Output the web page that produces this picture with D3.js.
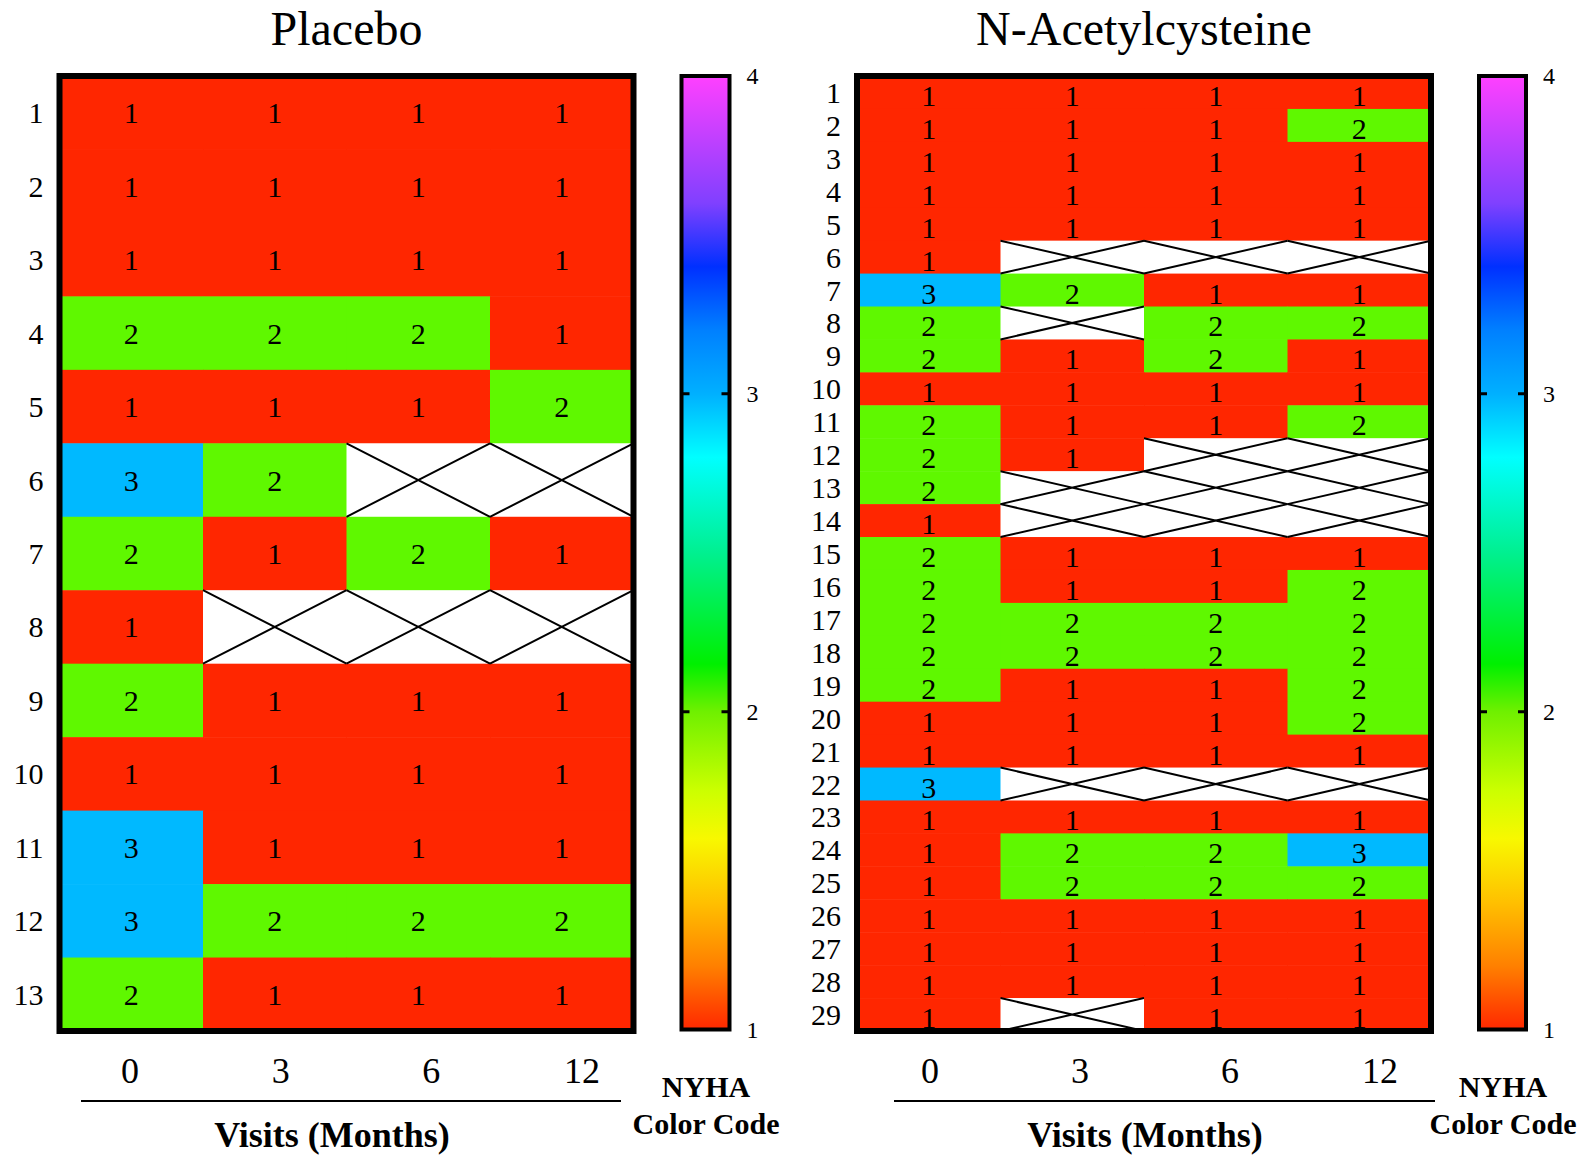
<!DOCTYPE html>
<meta charset="utf-8">
<style>
    body { margin: 0; background: #fff; }
    text { font-family: "Liberation Serif", "Times New Roman", serif; fill: #000; }
    .bold { font-weight: bold; }
</style>
<body>
<script src="https://d3js.org/d3.v7.min.js"></script>
<script>

    // visits (months)
    var visits = ["0", "3", "6", "12"];

    // patient ids
    var placeboIds = [1, 2, 3, 4, 5, 6, 7, 8, 9, 10, 11, 12, 13];
    var nacIds = [1, 2, 3, 4, 5, 6, 7, 8, 9, 10, 11, 12, 13, 14, 15,
                  16, 17, 18, 19, 20, 21, 22, 23, 24, 25, 26, 27, 28, 29];

    // NYHA class per patient and visit, null = missing visit
    var placeboNyha = [
        [1, 1, 1, 1],
        [1, 1, 1, 1],
        [1, 1, 1, 1],
        [2, 2, 2, 1],
        [1, 1, 1, 2],
        [3, 2, null, null],
        [2, 1, 2, 1],
        [1, null, null, null],
        [2, 1, 1, 1],
        [1, 1, 1, 1],
        [3, 1, 1, 1],
        [3, 2, 2, 2],
        [2, 1, 1, 1]
    ];

    var nacNyha = [
        [1, 1, 1, 1],
        [1, 1, 1, 2],
        [1, 1, 1, 1],
        [1, 1, 1, 1],
        [1, 1, 1, 1],
        [1, null, null, null],
        [3, 2, 1, 1],
        [2, null, 2, 2],
        [2, 1, 2, 1],
        [1, 1, 1, 1],
        [2, 1, 1, 2],
        [2, 1, null, null],
        [2, null, null, null],
        [1, null, null, null],
        [2, 1, 1, 1],
        [2, 1, 1, 2],
        [2, 2, 2, 2],
        [2, 2, 2, 2],
        [2, 1, 1, 2],
        [1, 1, 1, 2],
        [1, 1, 1, 1],
        [3, null, null, null],
        [1, 1, 1, 1],
        [1, 2, 2, 3],
        [1, 2, 2, 2],
        [1, 1, 1, 1],
        [1, 1, 1, 1],
        [1, 1, 1, 1],
        [1, null, 1, 1]
    ];

    var nyhaTicks = [1, 2, 3, 4];
    var cellColors = ["#ff2600", "#5ff800", "#00b9ff"];
    var gradientValues = [1, 1.2, 1.4, 1.6, 1.75, 2, 2.15, 2.5, 2.8, 3, 3.2, 3.4, 3.6, 4];
    var gradientColors = ["#ff2800", "#ff8000", "#ffc000", "#f8f800", "#ccff00", "#6ff000", "#00f000",
                          "#00f090", "#00ffff", "#00b0ff", "#0080ff", "#0030ff", "#8040ff", "#ff40ff"];

    var W = 1589, H = 1158;

    var svg = d3.select("body").append("svg")
        .attr("width", W)
        .attr("height", H);

    var defs = svg.append("defs");

    var color = d3.scaleOrdinal().domain([1, 2, 3]).range(cellColors);

    var grad = defs.append("linearGradient")
        .attr("id", "nyhaGrad")
        .attr("x1", 0).attr("y1", 1).attr("x2", 0).attr("y2", 0);
    var gOff = d3.scaleLinear().domain([1, 4]).range([0, 100]);
    grad.selectAll("stop")
        .data(gradientValues)
        .join("stop")
        .attr("offset", d => gOff(d) + "%")
        .attr("stop-color", (d, i) => gradientColors[i]);

    var plotTop = 76, plotBottom = 1031;

    var panels = [
        {title: "Placebo", ids: placeboIds, values: placeboNyha,
         left: 59.5, right: 633.5, numDy: 0,
         tickRange: [130, 582], lineRange: [81, 621], labelX: 332,
         barLeft: 681.5, barRight: 729.5, legendX: 706},
        {title: "N-Acetylcysteine", ids: nacIds, values: nacNyha,
         left: 857, right: 1431, numDy: 3,
         tickRange: [930, 1380], lineRange: [894, 1435], labelX: 1145,
         barLeft: 1479, barRight: 1526, legendX: 1503}
    ];

    panels.forEach(function(p) {
        var g = svg.append("g");

        var x = d3.scaleBand().domain(visits).range([p.left, p.right]);
        var y = d3.scaleBand().domain(p.ids).range([plotTop, plotBottom]);

        var cells = [];
        p.values.forEach(function(row, i) {
            row.forEach(function(v, j) {
                cells.push({id: p.ids[i], visit: visits[j], v: v});
            });
        });

        var cg = g.append("g").attr("class", "cells");
        cg.selectAll("rect")
            .data(cells)
            .join("rect")
            .attr("x", d => x(d.visit))
            .attr("y", d => y(d.id))
            .attr("width", x.bandwidth() + 0.5)
            .attr("height", y.bandwidth() + 0.5)
            .attr("fill", d => d.v == null ? "#fff" : color(d.v));

        var missing = cells.filter(d => d.v == null);
        cg.selectAll("path.miss")
            .data(missing)
            .join("path")
            .attr("class", "miss")
            .attr("d", function(d) {
                var x0 = x(d.visit), x1 = x0 + x.bandwidth();
                var y0 = y(d.id), y1 = y0 + y.bandwidth();
                return "M" + x0 + "," + y0 + "L" + x1 + "," + y1 +
                       "M" + x0 + "," + y1 + "L" + x1 + "," + y0;
            })
            .attr("stroke", "#000")
            .attr("stroke-width", 2)
            .attr("fill", "none");

        cg.selectAll("text")
            .data(cells.filter(d => d.v != null))
            .join("text")
            .attr("x", d => x(d.visit) + x.bandwidth() / 2)
            .attr("y", d => y(d.id) + y.bandwidth() / 2 + p.numDy)
            .attr("dy", "0.35em")
            .attr("text-anchor", "middle")
            .style("font-size", "30px")
            .text(d => d.v);

        // frame
        g.append("rect")
            .attr("x", p.left).attr("y", plotTop)
            .attr("width", p.right - p.left)
            .attr("height", plotBottom - plotTop)
            .attr("fill", "none")
            .attr("stroke", "#000")
            .attr("stroke-width", 6);

        // row labels
        g.append("g").selectAll("text")
            .data(p.ids)
            .join("text")
            .attr("x", p.left - 16)
            .attr("y", d => y(d) + y.bandwidth() / 2)
            .attr("dy", "0.35em")
            .attr("text-anchor", "end")
            .style("font-size", "30px")
            .text(d => d);

        // visit ticks
        var xt = d3.scalePoint().domain(visits).range(p.tickRange);
        g.append("g").selectAll("text")
            .data(visits)
            .join("text")
            .attr("x", d => xt(d))
            .attr("y", 1083)
            .attr("text-anchor", "middle")
            .style("font-size", "36px")
            .text(d => d);

        g.append("line")
            .attr("x1", p.lineRange[0]).attr("x2", p.lineRange[1])
            .attr("y1", 1101).attr("y2", 1101)
            .attr("stroke", "#000")
            .attr("stroke-width", 2);

        g.append("text")
            .attr("class", "bold")
            .attr("x", p.labelX)
            .attr("y", 1147)
            .attr("text-anchor", "middle")
            .style("font-size", "36px")
            .text("Visits (Months)");

        // title
        g.append("text")
            .attr("x", (p.left + p.right) / 2)
            .attr("y", 45)
            .attr("text-anchor", "middle")
            .style("font-size", "48px")
            .text(p.title);

        // colour bar
        var cy = d3.scaleLinear().domain([1, 4]).range([1029.5, 76]);
        g.append("rect")
            .attr("x", p.barLeft).attr("y", cy(4))
            .attr("width", p.barRight - p.barLeft)
            .attr("height", cy(1) - cy(4))
            .attr("fill", "url(#nyhaGrad)")
            .attr("stroke", "#000")
            .attr("stroke-width", 4);

        var ticks = g.append("g");
        ticks.selectAll("path")
            .data(nyhaTicks.slice(1, 3))
            .join("path")
            .attr("d", d => "M" + p.barLeft + "," + cy(d) + "h8M" + p.barRight + "," + cy(d) + "h-8")
            .attr("stroke", "#000")
            .attr("stroke-width", 3);

        ticks.selectAll("text")
            .data(nyhaTicks)
            .join("text")
            .attr("x", p.barRight + 17)
            .attr("y", d => cy(d))
            .attr("dy", "0.35em")
            .style("font-size", "24px")
            .text(d => d);

        g.append("text")
            .attr("class", "bold")
            .attr("x", p.legendX).attr("y", 1097)
            .attr("text-anchor", "middle")
            .style("font-size", "30px")
            .text("NYHA");
        g.append("text")
            .attr("class", "bold")
            .attr("x", p.legendX).attr("y", 1134)
            .attr("text-anchor", "middle")
            .style("font-size", "30px")
            .text("Color Code");
    });

</script>
</body>
